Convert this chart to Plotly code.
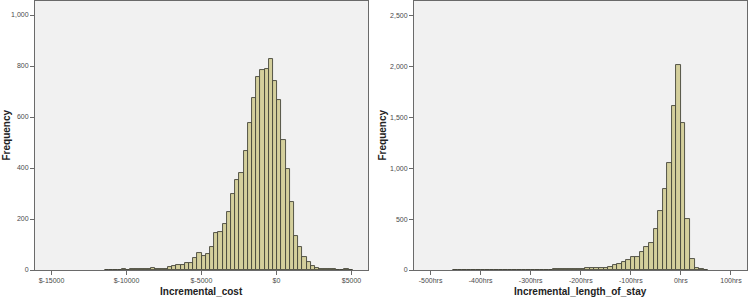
import plotly.graph_objects as go

# ---------------- data ----------------
# Incremental cost histogram (bins of equal width, left to right)
cost_bin_start = -11430
cost_bin_width = 280
cost_counts = [1, 1, 1, 1, 2, 1, 2, 3, 2, 3, 5, 6, 5, 3, 4,
               10, 16, 18, 18, 27, 27, 46, 65, 55, 63, 89, 144, 150, 179, 228,
               300, 352, 379, 467, 578, 675, 755, 783, 787, 829, 740, 666, 509,
               396, 266, 133, 89, 50, 30, 17, 9, 5,
               3, 2, 2, 1, 1, 2, 1]
cost_tick_vals = [-15000, -10000, -5000, 0, 5000]
cost_tick_text = ["$-15000", "$-10000", "$-5000", "$0", "$5000"]
cost_y_ticks = [0, 200, 400, 600, 800, 1000]

# Incremental length of stay histogram (hours)
los_bin_start = -454.55
los_bin_width = 9.0909
los_counts = [1, 0, 1, 1, 0, 1,
              1, 1, 2, 1, 2, 2, 2, 3, 2, 3, 3,
              3, 3, 4, 4, 4, 5, 5, 6, 7, 9, 10,
              14, 15, 16, 17, 19, 24, 33, 45, 63, 82, 98,
              124, 127, 173, 228, 268, 405, 581, 793, 1054, 1610, 2010,
              1443, 496, 104, 20, 7, 2]
los_tick_vals = [-500, -400, -300, -200, -100, 0, 100]
los_tick_text = ["-500hrs", "-400hrs", "-300hrs", "-200hrs", "-100hrs", "0hrs", "100hrs"]
los_y_ticks = [0, 500, 1000, 1500, 2000, 2500]

# ---------------- figure ----------------
BAR_FILL = "#D4CF9C"
BAR_LINE = "#45453A"
FRAME = "#6A6A6A"
PLOT_BG = "#F1F1F1"
FONT = "Liberation Sans"

cost_x = [cost_bin_start + cost_bin_width * (i + 0.5) for i in range(len(cost_counts))]
los_x = [los_bin_start + los_bin_width * (i + 0.5) for i in range(len(los_counts))]

fig = go.Figure()
fig.add_trace(go.Bar(x=cost_x, y=cost_counts, width=cost_bin_width,
                     marker=dict(color=BAR_FILL, line=dict(color=BAR_LINE, width=0.9)),
                     xaxis="x", yaxis="y", showlegend=False))
fig.add_trace(go.Bar(x=los_x, y=los_counts, width=los_bin_width,
                     marker=dict(color=BAR_FILL, line=dict(color=BAR_LINE, width=0.9)),
                     xaxis="x2", yaxis="y2", showlegend=False))

W, H = 748, 299
xd1 = [35 / W, 368 / W]
xd2 = [414 / W, 747 / W]
yd = [29 / H, 298 / H]

tickfont = dict(family=FONT, size=7, color="#4A4A4A")
common_x = dict(showgrid=False, zeroline=False, showline=True, linecolor=FRAME, linewidth=1,
                mirror=True, ticks="outside", ticklen=4, tickcolor=FRAME, tickwidth=1,
                tickfont=tickfont, automargin=False)
common_y = dict(showgrid=False, zeroline=False, showline=True, linecolor=FRAME, linewidth=1,
                mirror=True, ticks="outside", ticklen=4, tickcolor=FRAME, tickwidth=1,
                tickfont=tickfont, tickformat=",", automargin=False)

fig.update_layout(
    width=W, height=H,
    margin=dict(l=0, r=0, t=0, b=0),
    paper_bgcolor="white",
    plot_bgcolor=PLOT_BG,
    bargap=0,
    xaxis=dict(domain=xd1, range=[-16100, 6100], tickvals=cost_tick_vals,
               ticktext=cost_tick_text, anchor="y", **common_x),
    yaxis=dict(domain=yd, range=[0, 1055], tickvals=cost_y_ticks, anchor="x", **common_y),
    xaxis2=dict(domain=xd2, range=[-533, 132], tickvals=los_tick_vals,
                ticktext=los_tick_text, anchor="y2", **common_x),
    yaxis2=dict(domain=yd, range=[0, 2640], tickvals=los_y_ticks, anchor="x2", **common_y),
)

title_font = dict(family=FONT, size=10, color="#222222")
annos = [
    dict(text="<b>Incremental_cost</b>", x=(xd1[0] + xd1[1]) / 2, y=8 / H),
    dict(text="<b>Incremental_length_of_stay</b>", x=(xd2[0] + xd2[1]) / 2, y=8 / H),
]
for a in annos:
    fig.add_annotation(xref="paper", yref="paper", showarrow=False, font=title_font,
                       xanchor="center", yanchor="middle", **a)
for xc in [6 / W, 382 / W]:
    fig.add_annotation(text="<b>Frequency</b>", xref="paper", yref="paper", showarrow=False,
                       x=xc, y=(yd[0] + yd[1]) / 2, textangle=-90, font=title_font,
                       xanchor="center", yanchor="middle")

fig.write_html("out.html", config={"displayModeBar": False},
               post_script="document.body.style.margin='0';document.body.style.overflow='hidden';")
